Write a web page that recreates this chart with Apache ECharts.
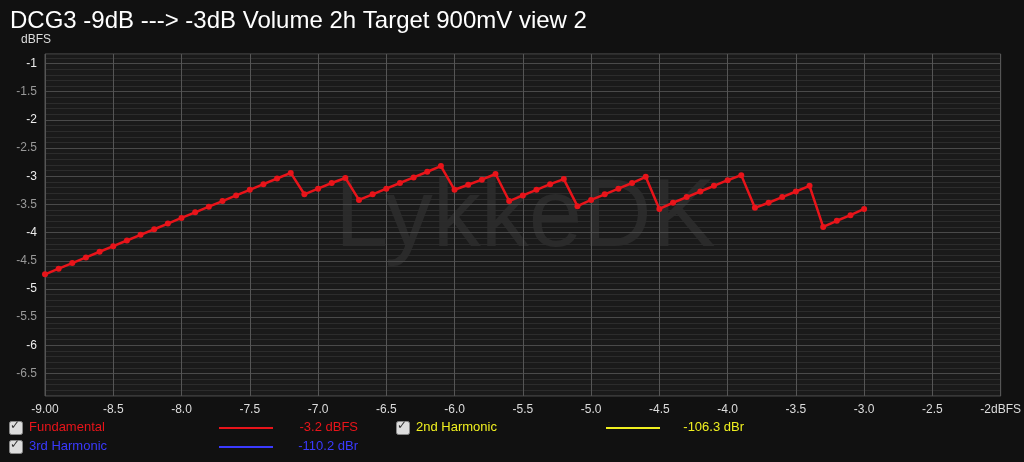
<!DOCTYPE html>
<html><head><meta charset="utf-8">
<script src="https://cdn.jsdelivr.net/npm/echarts@6/dist/echarts.min.js"></script>
<style>html,body{margin:0;background:#111;}#c{width:1024px;height:462px;}</style>
</head><body><div id="c"></div>
<script>
const xValues = [-9.0,-8.9,-8.8,-8.7,-8.6,-8.5,-8.4,-8.3,-8.2,-8.1,-8.0,-7.9,-7.8,-7.7,-7.6,-7.5,-7.4,-7.3,-7.2,-7.1,-7.0,-6.9,-6.8,-6.7,-6.6,-6.5,-6.4,-6.3,-6.2,-6.1,-6.0,-5.9,-5.8,-5.7,-5.6,-5.5,-5.4,-5.3,-5.2,-5.1,-5.0,-4.9,-4.8,-4.7,-4.6,-4.5,-4.4,-4.3,-4.2,-4.1,-4.0,-3.9,-3.8,-3.7,-3.6,-3.5,-3.4,-3.3,-3.2,-3.1,-3.0];
const fundamental = [-4.74,-4.64,-4.54,-4.44,-4.34,-4.24,-4.14,-4.04,-3.94,-3.84,-3.74,-3.64,-3.54,-3.44,-3.34,-3.24,-3.14,-3.04,-2.94,
 -3.32,-3.22,-3.12,-3.03,
 -3.42,-3.32,-3.22,-3.12,-3.02,-2.92,-2.82,
 -3.24,-3.15,-3.06,-2.96,
 -3.44,-3.34,-3.24,-3.14,-3.05,
 -3.53,-3.42,-3.32,-3.22,-3.12,-3.01,
 -3.58,-3.47,-3.37,-3.27,-3.17,-3.07,-2.98,
 -3.56,-3.47,-3.37,-3.27,-3.17,
 -3.90,-3.79,-3.69,-3.58];
const legendRows = [
 {name:'Fundamental', value:'-3.2 dBFS', color:'#e8141a'},
 {name:'3rd Harmonic', value:'-110.2 dBr', color:'#3a3aff'},
 {name:'2nd Harmonic', value:'-106.3 dBr', color:'#f0f020'}
];
const chart = echarts.init(document.getElementById('c'));
const F = '"Liberation Sans", Arial, sans-serif';
function check(x,y){return [{type:'rect',left:x,top:y,shape:{width:13,height:13,r:2},style:{fill:'#ddd',stroke:'#888'}},
 {type:'text',left:x+1,top:y-1,style:{text:'✓',fill:'#333',font:'bold 12px DejaVu Sans'}}];}
function legendEls(r,x,y,lx,vx){return [...check(x,y),
 {type:'text',left:x+20,top:y,style:{text:r.name,fill:r.color,font:'13px '+F}},
 {type:'line',shape:{x1:lx,y1:y+7,x2:lx+54,y2:y+7},style:{stroke:r.color,lineWidth:2}},
 {type:'text',right:1024-vx,top:y,style:{text:r.value,fill:r.color,font:'13px '+F}}];}
chart.setOption({
 backgroundColor:'#111',
 animation:false,
 title:{text:'DCG3 -9dB ---> -3dB Volume 2h Target 900mV view 2',left:5,top:4,textStyle:{color:'#fff',fontSize:24,fontWeight:'normal',fontFamily:F}},
 grid:{left:45,right:21,top:54,bottom:66,show:true,backgroundColor:'#1a1a1a',borderColor:'#555'},
 xAxis:{type:'value',min:-9,max:-2,interval:0.5,
  axisLine:{show:false},axisTick:{show:false},
  axisLabel:{color:'#ddd',fontSize:12,fontFamily:F,formatter:v=>v===-9?'-9.00':(v===-2?'-2dBFS':v.toFixed(1))},
  splitLine:{lineStyle:{color:'#555',width:1}}},
 yAxis:{type:'value',min:-6.9,max:-0.83,interval:0.1,name:'dBFS',nameLocation:'end',nameGap:8,
  nameTextStyle:{color:'#ddd',fontSize:12,fontFamily:F,align:'right',padding:[0,-6,0,0]},
  axisLine:{show:false},axisTick:{show:false},
  axisLabel:{interval:0,showMinLabel:false,showMaxLabel:false,fontSize:12,fontFamily:F,
   formatter:v=>{const r=Math.round(v*10)/10; if(Math.abs(r*2-Math.round(r*2))>1e-6) return '';
     return Number.isInteger(r)?'{a|'+r+'}':'{b|'+r+'}';},
   rich:{a:{color:'#eee',fontSize:12,fontFamily:F},b:{color:'#999',fontSize:12,fontFamily:F}}},
  splitLine:{lineStyle:{color:['#2c2c2c','#2c2c2c','#2c2c2c','#2c2c2c','#4a4a4a']}}},
 graphic:[
  {type:'text',left:335,top:172,z:0,style:{text:'LykkeDK',fill:'rgba(255,255,255,0.07)',font:'96px '+F}},
  ...legendEls(legendRows[0],9,421,219,358),
  ...legendEls(legendRows[1],9,440,219,358),
  ...legendEls(legendRows[2],396,421,606,744)
 ],
 series:[{type:'line',data:xValues.map((x,i)=>[x,fundamental[i]]),
  symbol:'circle',symbolSize:6,lineStyle:{color:'#e8141a',width:2.5},itemStyle:{color:'#e8141a'}}]
});
</script></body></html>
